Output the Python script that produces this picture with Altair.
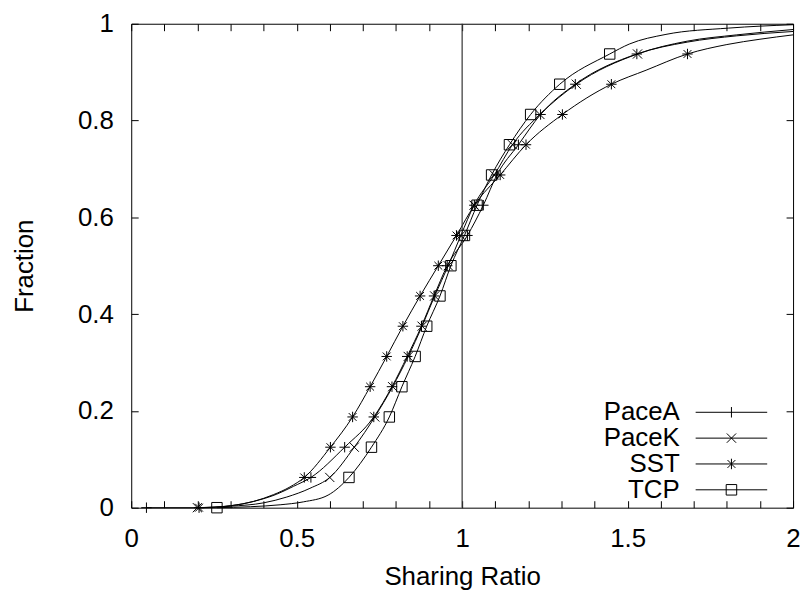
import altair as alt
import pandas as pd

# ---------------- data ----------------
series_names = ["PaceA", "PaceK", "SST", "TCP"]

# CDF fractions at which the markers sit
fractions = [0.0, 0.0625, 0.125, 0.1875, 0.25, 0.3125, 0.375, 0.4375,
             0.5, 0.5625, 0.625, 0.6875, 0.75, 0.8125, 0.875, 0.9375]

# sharing ratio of each marker
pacea_x = [0.046, 0.543, 0.645, 0.733, 0.788, 0.834, 0.877, 0.915,
           0.955, 1.016, 1.064, 1.105, 1.170, 1.237, 1.342, 1.528]
pacek_x = [0.200, 0.600, 0.674, 0.736, 0.790, 0.837, 0.879, 0.917,
           0.958, 0.996, 1.036, 1.097, 1.152, 1.235, 1.345, 1.530]
sst_x = [0.205, 0.523, 0.602, 0.669, 0.722, 0.772, 0.821, 0.873,
         0.928, 0.983, 1.037, 1.115, 1.193, 1.303, 1.451, 1.681]
tcp_x = [0.259, 0.658, 0.726, 0.780, 0.818, 0.858, 0.893, 0.933,
         0.966, 1.007, 1.045, 1.089, 1.143, 1.207, 1.295, 1.446]

# additional points (tails between / beyond markers)
pacea_curve_x = [0.21, 0.30, 0.37, 0.44, 0.49, 1.68, 1.83, 2.0]
pacea_curve_y = [0.0, 0.004, 0.013, 0.028, 0.044, 0.962, 0.975, 0.984]
pacek_curve_x = [0.30, 0.40, 0.47, 0.54, 1.68, 1.83, 2.0]
pacek_curve_y = [0.003, 0.010, 0.022, 0.040, 0.964, 0.977, 0.988]
sst_curve_x = [0.30, 0.37, 0.43, 0.48, 1.556, 1.80, 1.90, 2.0]
sst_curve_y = [0.004, 0.013, 0.027, 0.043, 0.904, 0.957, 0.968, 0.977]
tcp_curve_x = [0.36, 0.45, 0.52, 0.595, 1.505, 1.616, 1.805, 2.0]
tcp_curve_y = [0.002, 0.006, 0.012, 0.026, 0.958, 0.978, 0.991, 0.998]

reference_x = [1.0]

x_tick_values = [0.0, 0.1, 0.2, 0.3, 0.4, 0.5, 0.6, 0.7, 0.8, 0.9, 1.0,
                 1.1, 1.2, 1.3, 1.4, 1.5, 1.6, 1.7, 1.8, 1.9, 2.0]
y_tick_values = [0.0, 0.2, 0.4, 0.6, 0.8, 1.0]

# ---------------- styling ----------------
FONT = "Liberation Sans"
FS = 26

marker_paths = [
    "M-1,0L1,0M0,-1L0,1",                                   # +
    "M-0.88,-0.88L0.88,0.88M-0.88,0.88L0.88,-0.88",         # x
    "M-1,0L1,0M0,-1L0,1M-0.75,-0.75L0.75,0.75M-0.75,0.75L0.75,-0.75",  # *
    "M-1,-1L1,-1L1,1L-1,1Z",                                # square
]
# legend keys: line sample + marker, drawn to the right of the (right-aligned) label
legend_paths = [
    "M5.27,0L18.36,0M11.82,-0.96L11.82,0.96",
    "M5.27,0L18.36,0M10.97,-0.85L12.67,0.85M10.97,0.85L12.67,-0.85",
    "M5.27,0L18.36,0M11.82,-0.96L11.82,0.96M11.10,-0.72L12.54,0.72M11.10,0.72L12.54,-0.72",
    "M5.27,0L18.36,0M10.86,-0.96L12.78,-0.96L12.78,0.96L10.86,0.96Z",
]

rows = []
for name, mx, cx, cy in [
    ("PaceA", pacea_x, pacea_curve_x, pacea_curve_y),
    ("PaceK", pacek_x, pacek_curve_x, pacek_curve_y),
    ("SST", sst_x, sst_curve_x, sst_curve_y),
    ("TCP", tcp_x, tcp_curve_x, tcp_curve_y),
]:
    for x, y in zip(mx, fractions):
        rows.append({"series": name, "x": x, "y": y, "marker": True})
    for x, y in zip(cx, cy):
        rows.append({"series": name, "x": x, "y": y, "marker": False})
df = pd.DataFrame(rows)
ref_df = pd.DataFrame({"x": reference_x})

xscale = alt.Scale(domain=[0, 2], nice=False, zero=False)
yscale = alt.Scale(domain=[0, 1], nice=False, zero=False)

bottom_axis = alt.Axis(
    orient="bottom", values=x_tick_values, offset=-7, tickSize=7,
    labelExpr="abs(datum.value*2 - round(datum.value*2)) < 0.001 ? format(datum.value, '~g') : ''",
    labelFlush=False, labelOverlap=False, labelPadding=18,
    title="Sharing Ratio", titlePadding=12,
)
left_axis = alt.Axis(
    orient="left", values=y_tick_values, offset=-7, tickSize=7,
    labelExpr="format(datum.value, '~g')", labelOverlap=False,
    labelFlush=False, labelPadding=18,
    title="Fraction", titlePadding=40,
)
top_axis = alt.Axis(orient="top", values=x_tick_values, offset=-7, tickSize=7,
                    labels=False, title=None)
right_axis = alt.Axis(orient="right", values=y_tick_values, offset=-7, tickSize=7,
                      labels=False, title=None)

lines = alt.Chart(df).mark_line(
    color="black", strokeWidth=1, interpolate="monotone"
).encode(
    x=alt.X("x:Q", scale=xscale, axis=bottom_axis),
    y=alt.Y("y:Q", scale=yscale, axis=left_axis),
    detail="series:N",
)

ref_rule = alt.Chart(ref_df).mark_rule(color="#333333", strokeWidth=1.2).encode(
    x=alt.X("x:Q", scale=xscale, axis=None),
)

points = alt.Chart(df).transform_filter("datum.marker").mark_point(
    filled=False, color="black", strokeWidth=1, size=110, opacity=1
).encode(
    x=alt.X("x:Q", scale=xscale, axis=top_axis),
    y=alt.Y("y:Q", scale=yscale, axis=right_axis),
    shape=alt.Shape("series:N",
                    scale=alt.Scale(domain=series_names, range=marker_paths),
                    legend=None),
)

legend_layer = alt.Chart(df).transform_filter("datum.x > 100").mark_point(
    filled=False, color="black", strokeWidth=1, size=121, opacity=1
).encode(
    x=alt.X("x:Q", scale=xscale, axis=None),
    y=alt.Y("y:Q", scale=yscale, axis=None),
    shape=alt.Shape(
        "series:N",
        scale=alt.Scale(domain=series_names, range=legend_paths),
        legend=alt.Legend(
            orient="none", legendX=526, legendY=378, title=None,
            labelAlign="right", labelOffset=0, labelFontSize=FS,
            labelFont=FONT, labelColor="black", labelLimit=0,
            symbolSize=121, symbolStrokeColor="black",
            symbolFillColor="transparent", symbolStrokeWidth=1,
            symbolOpacity=1, rowPadding=0, padding=0,
        ),
    ),
)

chart = alt.layer(lines, ref_rule, points, legend_layer).resolve_scale(
    shape="independent"
).resolve_axis(
    x="independent", y="independent"
).properties(
    width=666, height=487,
    autosize=alt.AutoSizeParams(type="none"),
    padding={"left": 124, "top": 14, "right": 8, "bottom": 82},
).configure_view(
    stroke="black", strokeWidth=1
).configure_axis(
    labelFont=FONT, titleFont=FONT, labelFontSize=FS, titleFontSize=FS,
    labelColor="black", titleColor="black", titleFontWeight="normal",
    tickColor="black", tickWidth=1, grid=False, domain=False,
)

chart.save("out.html", embed_options={"renderer": "svg", "actions": False})
